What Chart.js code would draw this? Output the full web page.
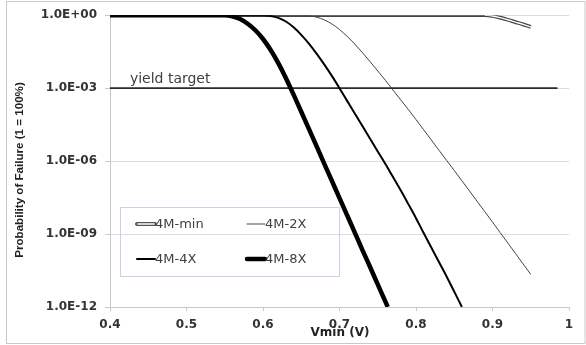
<!DOCTYPE html>
<html>
<head>
<meta charset="utf-8">
<script src="https://cdn.jsdelivr.net/npm/chart.js@4.4.0/dist/chart.umd.min.js"></script>
<style>
    html, body { margin: 0; padding: 0; background: #fff; }
    #wrap { width: 586px; height: 345px; }
</style>
</head>
<body>
<div id="wrap"><canvas id="chart" width="586" height="345"></canvas></div>
<script>
// legend order
const seriesNames = ['4M-min', '4M-2X', '4M-4X', '4M-8X'];

// Vmin (V) / probability of failure
const vMin = [0.40, 0.89, 0.90, 0.91, 0.92, 0.93, 0.94, 0.95];
const pMin = [1, 1, 0.93, 0.79, 0.65, 0.52, 0.42, 0.33];

const v2x = [0.40, 0.65, 0.66, 0.67, 0.68, 0.69, 0.70, 0.71, 0.72, 0.73, 0.74, 0.75,
    0.76, 0.77, 0.78, 0.79, 0.80, 0.81, 0.82, 0.83, 0.84, 0.85,
    0.86, 0.87, 0.88, 0.89, 0.90, 0.91, 0.92, 0.93, 0.94, 0.95];
const p2x = [1, 1, 0.955, 0.832, 0.646, 0.437, 0.257, 0.135, 0.0646, 0.0288, 0.0123, 5.1e-3,
    2.1e-3, 8.3e-4, 3.3e-4, 1.32e-4, 5.1e-5, 1.95e-5, 7.4e-6, 2.8e-6, 1.07e-6, 4.1e-7,
    1.55e-7, 5.9e-8, 2.2e-8, 8.3e-9, 3.1e-9, 1.15e-9, 4.3e-10, 1.6e-10, 5.9e-11, 2.2e-11];

const v4x = [0.40, 0.60, 0.61, 0.62, 0.63, 0.64, 0.65, 0.66, 0.67, 0.68, 0.69, 0.70,
    0.71, 0.72, 0.73, 0.74, 0.75, 0.76, 0.77, 0.78, 0.79, 0.80,
    0.81, 0.82, 0.83, 0.84, 0.85, 0.86];
const p4x = [1, 1, 0.933, 0.776, 0.55, 0.316, 0.155, 0.0676, 0.0263, 9.5e-3, 3.2e-3, 1e-3,
    3.0e-4, 9.1e-5, 2.75e-5, 8.3e-6, 2.5e-6, 7.6e-7, 2.2e-7, 6.3e-8, 1.7e-8, 4.5e-9,
    1.1e-9, 2.8e-10, 7.1e-11, 1.8e-11, 4.3e-12, 1e-12];

const v8x = [0.40, 0.55, 0.56, 0.57, 0.58, 0.59, 0.60, 0.61, 0.62, 0.63, 0.64, 0.65,
    0.66, 0.67, 0.68, 0.69, 0.70, 0.71, 0.72, 0.73, 0.74, 0.75, 0.76, 0.763];
const p8x = [1, 1, 0.891, 0.692, 0.447, 0.24, 0.105, 0.0372, 0.0107, 2.57e-3, 5.4e-4, 1.07e-4,
    2.1e-5, 4.1e-6, 7.9e-7, 1.55e-7, 3.0e-8, 5.9e-9, 1.15e-9, 2.2e-10, 4.4e-11, 8.5e-12, 1.66e-12, 1e-12];

const yieldV = [0.40, 0.985];
const yieldP = [1e-3, 1e-3];
const yieldLabel = 'yield target';

const yTicks = [1, 1e-3, 1e-6, 1e-9, 1e-12];
const yTickLabels = ['1.0E+00', '1.0E-03', '1.0E-06', '1.0E-09', '1.0E-12'];
const xTicks = [0.4, 0.5, 0.6, 0.7, 0.8, 0.9, 1.0];
const xTickLabels = ['0.4', '0.5', '0.6', '0.7', '0.8', '0.9', '1'];

const xTitle = 'Vmin (V)';
const yTitle = 'Probability of Failure (1 = 100%)';

function pts(xs, ys) {
    return xs.map((x, i) => ({ x: x, y: ys[i] }));
}

const tickFont = { family: 'DejaVu Sans', size: 12, weight: 'bold' };

// little line styles for the legend
const legendStyles = [
    { width: 4, color: '#555', inner: 1.6 },
    { width: 1, color: '#444' },
    { width: 2, color: '#000' },
    { width: 4.5, color: '#000' }
];

const extras = {
    id: 'extras',
    beforeDraw(chart) {
        const c = chart.ctx;
        c.save();
        c.fillStyle = '#fff';
        c.fillRect(0, 0, chart.width, chart.height);
        c.strokeStyle = '#c8c8c8';
        c.lineWidth = 1;
        c.strokeRect(6.5, 1.5, chart.width - 7.5, chart.height - 3);
        c.restore();
    },
    afterDraw(chart) {
        const c = chart.ctx;
        const xs = chart.scales.x, ys = chart.scales.y;
        c.save();

        // yield target label
        c.fillStyle = '#404040';
        c.font = '14px "DejaVu Sans"';
        c.textBaseline = 'bottom';
        c.fillText(yieldLabel, xs.getPixelForValue(0.426), ys.getPixelForValue(yieldP[0]) - 2);

        // axis titles
        c.font = 'bold 12px "DejaVu Sans"';
        c.fillStyle = '#222';
        c.textAlign = 'center';
        c.textBaseline = 'middle';
        c.fillText(xTitle, 340, 333);
        c.save();
        c.translate(20, 170);
        c.rotate(-Math.PI / 2);
        c.font = 'bold 11.6px "Liberation Sans"';
        c.fillText(yTitle, 0, 0);
        c.restore();

        // legend box
        c.strokeStyle = '#c5d3e6';
        c.lineWidth = 1;
        c.strokeRect(120.5, 207.5, 219, 69);
        c.font = '13px "DejaVu Sans"';
        c.textAlign = 'left';
        c.fillStyle = '#404040';
        const cols = [137, 247];
        const rows = [224, 259];
        seriesNames.forEach((name, i) => {
            const x = cols[i % 2], y = rows[Math.floor(i / 2)];
            const s = legendStyles[i];
            c.beginPath();
            c.moveTo(x, y);
            c.lineTo(x + 18, y);
            c.strokeStyle = s.color;
            c.lineWidth = s.width;
            c.lineCap = 'round';
            c.stroke();
            if (s.inner) {
                c.beginPath();
                c.moveTo(x + 1, y);
                c.lineTo(x + 17, y);
                c.strokeStyle = '#fff';
                c.lineWidth = s.inner;
                c.stroke();
            }
            c.fillText(name, x + 18, y + 1);
        });
        c.restore();
    }
};

const ds = (label, data, color, width, order) => ({
    label: label,
    data: data,
    borderColor: color,
    borderWidth: width,
    pointRadius: 0,
    fill: false,
    cubicInterpolationMode: 'monotone',
    order: order
});

new Chart(document.getElementById('chart'), {
    type: 'line',
    data: {
        datasets: [
            ds(seriesNames[3], pts(v8x, p8x), '#000', 4.5, 1),
            ds(seriesNames[2], pts(v4x, p4x), '#000', 2, 2),
            ds(seriesNames[1], pts(v2x, p2x), '#444', 1, 3),
            ds(yieldLabel, pts(yieldV, yieldP), '#2a2a2a', 1.7, 4),
            ds('min-inner', pts(vMin.slice(1), pMin.slice(1)), '#fff', 1.4, 5),
            ds(seriesNames[0], pts(vMin, pMin), '#444', 3.8, 6)
        ]
    },
    options: {
        responsive: false,
        animation: false,
        devicePixelRatio: 1,
        layout: { padding: { left: 0, top: 12, right: 17, bottom: 0 } },
        plugins: {
            legend: { display: false },
            tooltip: { enabled: false }
        },
        scales: {
            x: {
                type: 'linear',
                min: 0.4,
                max: 1.0,
                afterBuildTicks: (s) => { s.ticks = xTicks.map(v => ({ value: v })); },
                afterFit: (s) => { s.height = 38; },
                ticks: {
                    callback: (v, i) => xTickLabels[i],
                    font: tickFont,
                    color: '#333',
                    padding: 7,
                    maxRotation: 0
                },
                grid: { drawOnChartArea: false, tickLength: 4, tickColor: '#c8c8c8' },
                border: { color: '#c8c8c8' }
            },
            y: {
                type: 'logarithmic',
                min: 1e-12,
                max: 1,
                afterBuildTicks: (s) => { s.ticks = yTicks.map(v => ({ value: v, major: true })); },
                afterFit: (s) => { s.width = 110; },
                ticks: {
                    callback: (v, i) => yTickLabels[i],
                    font: tickFont,
                    color: '#333',
                    padding: 8
                },
                grid: { color: '#dcdcdc', tickLength: 5, tickColor: '#c8c8c8' },
                border: { color: '#c8c8c8' }
            }
        }
    },
    plugins: [extras]
});
</script>
</body>
</html>
